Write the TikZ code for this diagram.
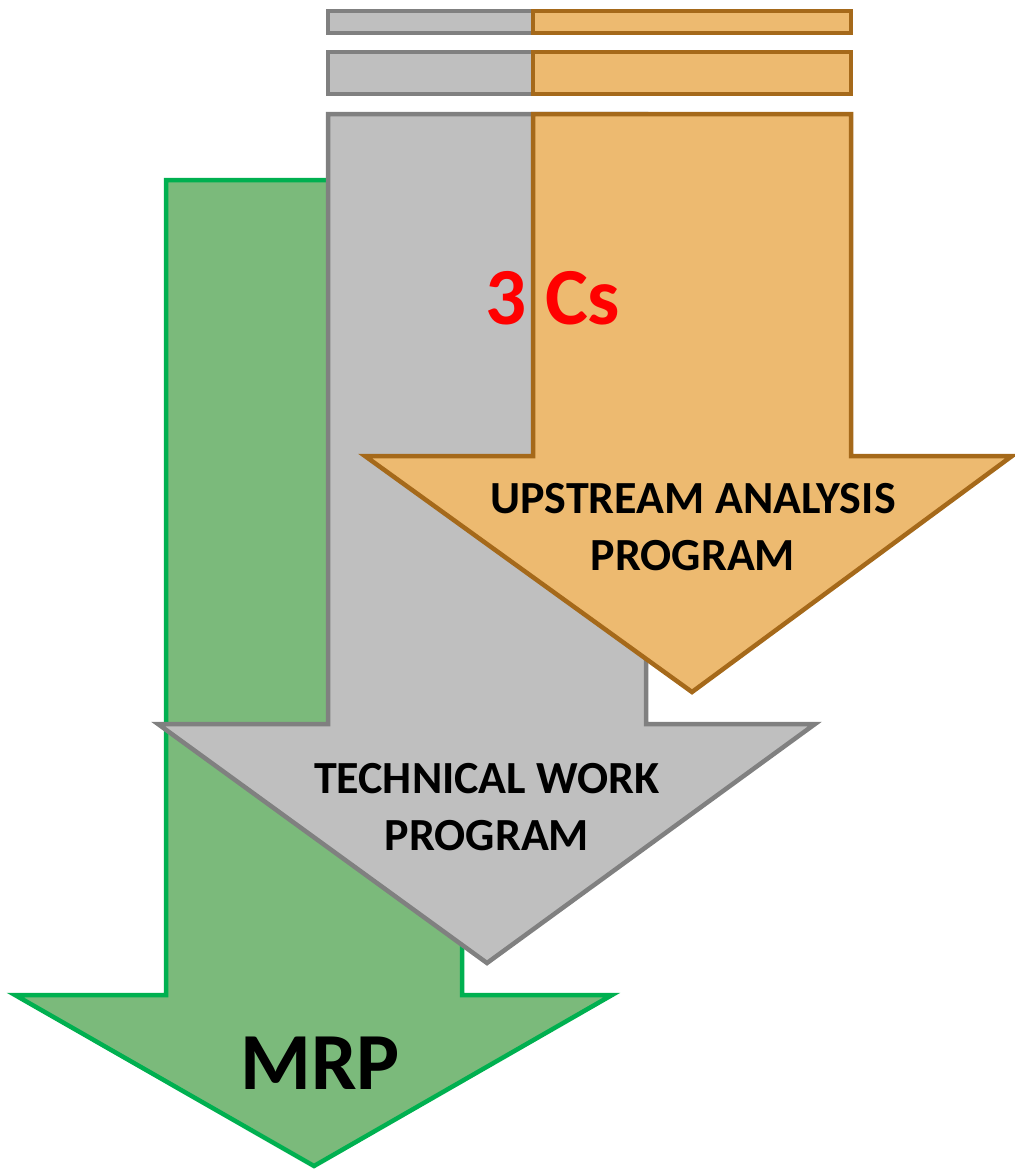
\documentclass[tikz,border=0pt]{standalone}
\usepackage{fontspec}
\setmainfont{Carlito}
\definecolor{grayfill}{HTML}{BFBFBF}
\definecolor{grayline}{HTML}{808080}
\definecolor{orfill}{HTML}{EDBA70}
\definecolor{orline}{HTML}{A5691A}
\definecolor{grfill}{HTML}{7BBA7B}
\definecolor{grline}{HTML}{00B050}
\begin{document}
\begin{tikzpicture}[x=1pt,y=-1pt,
  grayshape/.style={fill=grayfill,draw=grayline,line width=4.5pt,line join=miter},
  orshape/.style={fill=orfill,draw=orline,line width=4.5pt,line join=miter},
  grshape/.style={fill=grfill,draw=grline,line width=4.5pt,line join=miter},
  lbl/.style={font=\bfseries\fontsize{46}{57}\selectfont,align=center,text=black,inner sep=0pt},
  biglbl/.style={font=\bfseries\fontsize{81}{90}\selectfont,inner sep=0pt}]
\useasboundingbox (0,0) rectangle (1015,1171);
% green arrow
\path[grshape] (166,180) -- (462,180) -- (462,995) -- (612,995) -- (314,1166) -- (15,995) -- (166,995) -- cycle;
% gray arrow and bars
\path[grayshape] (328,114) -- (646,114) -- (646,724) -- (815,724) -- (487,963) -- (158,724) -- (328,724) -- cycle;
\path[grayshape] (328,11) rectangle (646,33);
\path[grayshape] (328,52) rectangle (646,94);
% orange arrow and bars
\path[orshape] (533,114) -- (851,114) -- (851,456) -- (1012,456) -- (692,692) -- (365,456) -- (533,456) -- cycle;
\path[orshape] (533,11) rectangle (851,33);
\path[orshape] (533,52) rectangle (851,94);
% labels
\node[biglbl,text=red] (cs) at (553,298) {3 Cs};
\node[lbl] (up) at (693,527) {UPSTREAM ANALYSIS\\PROGRAM};
\node[lbl] (tw) at (487,807) {TECHNICAL WORK\\PROGRAM};
\node[biglbl,text=black] (mrp) at (320,1063) {MRP};
\end{tikzpicture}
\end{document}
